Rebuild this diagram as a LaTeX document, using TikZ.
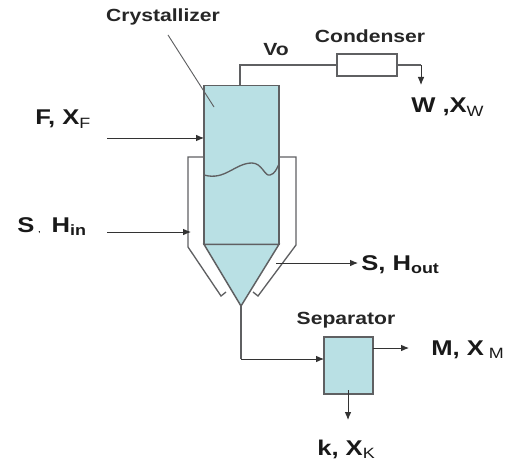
\documentclass[tikz,border=0pt]{standalone}
\usepackage{fontspec}
\setmainfont[FakeStretch=1.2]{Liberation Sans}
\usepackage{xcolor}
\usetikzlibrary{arrows.meta}
\definecolor{vesselfill}{HTML}{B9E0E4}
\definecolor{linegray}{HTML}{5F6062}
\begin{document}
\begin{tikzpicture}[x=0.75pt,y=-0.75pt,
  unit/.style={draw=linegray, line width=1.1pt, fill=vesselfill, inner sep=0pt, outer sep=0pt},
  pipe/.style={draw=linegray, line width=1pt},
  flow/.style={draw=black!80, line width=0.7pt, -{Latex[length=6pt,width=5pt]}},
  unitlabel/.style={font=\fontsize{13.2}{15}\selectfont\bfseries, text=black!85, inner sep=0pt},
  stream/.style={font=\fontsize{16}{18}\selectfont\bfseries, text=black!90, inner sep=0pt, anchor=base west}]
\useasboundingbox (0,0) rectangle (505,466);
\node[unit, minimum width=56.25pt, minimum height=119pt] (cr) at (241.5,165) {};
\coordinate (apex) at (241,306);
\draw[unit] (cr.south west) -- (cr.south east) -- (apex) -- cycle;
% level inside the vessel
\coordinate (lvl) at (cr.west |- 0,175);
\coordinate (lvr) at (cr.east |- 0,164);
\draw[pipe] (lvl) .. controls (225,181) and (235,163) .. (252,163) .. controls (262,163) and (265,177) .. (270,175) .. controls (275,174) and (277,168) .. (lvr);
% jacket
\coordinate (jl) at (188,157);
\coordinate (jr) at (296,157);
\draw[pipe] (cr.west |- jl) -- (jl) -- (188,247) -- (221,296) -- (226,292);
\draw[pipe] (cr.east |- jr) -- (jr) -- (296,245) -- (258,296) -- (253,292);
% condenser and separator
\node[pipe, fill=white, minimum width=45pt, minimum height=16.5pt, inner sep=0pt, outer sep=0pt] (cond) at (367,65) {};
\node[unit, minimum width=36.75pt, minimum height=42.75pt] (sep) at (348.5,365.5) {};
\node[unitlabel] (crl) at (163,17) {Crystallizer};
\node[unitlabel] (vo) at (276,50) {Vo};
\node[unitlabel] (condl) at (370,36) {Condenser};
\node[unitlabel] (sepl) at (346,320) {Separator};
\node[stream] (w) at (411,113) {W ,X\textsubscript{\textnormal{W}}};
\node[stream] (f) at (35,125) {F, X\textsubscript{\textnormal{F}}};
\node[stream] (s) at (17,232) {S\hspace{3pt}{\tiny ,}\hspace{3pt} H\textsubscript{in}};
\node[stream] (so) at (361,270) {S, H\textsubscript{out}};
\node[stream] (m) at (431,355) {M, X\textsubscript{\textnormal{ M}}};
\node[stream] (k) at (317,455) {k, X\textsubscript{\textnormal{K}}};
\coordinate (crp) at (168,35);
\coordinate (crq) at (214,107);
\draw[pipe, line width=0.7pt] (crp) -- (crq);
\coordinate (vt) at (240,65);
\draw[pipe] (vt |- cr.north) -- (vt) -- (cond);
\coordinate (wc) at (421,65);
\coordinate (wa) at (421,85);
\draw[pipe] (cond) -- (wc);
\draw[flow] (wc) -- (wa);
\coordinate (fs) at (107,138);
\draw[flow] (fs) -- (cr.west |- fs);
\coordinate (ss) at (107,232);
\coordinate (se) at (191,232);
\draw[flow] (ss) -- (se);
\coordinate (os) at (276,263);
\coordinate (oe) at (358,263);
\draw[flow] (os) -- (oe);
\coordinate (sc) at (241,359);
\draw[pipe] (apex) -- (sc);
\draw[flow] (sc) -- (sc -| sep.west);
\coordinate (ms) at (373,348);
\coordinate (me) at (409,348);
\draw[flow] (ms) -- (me);
\coordinate (ks) at (348,390);
\coordinate (ke) at (348,420);
\draw[flow] (ks) -- (ke);
\end{tikzpicture}
\end{document}
